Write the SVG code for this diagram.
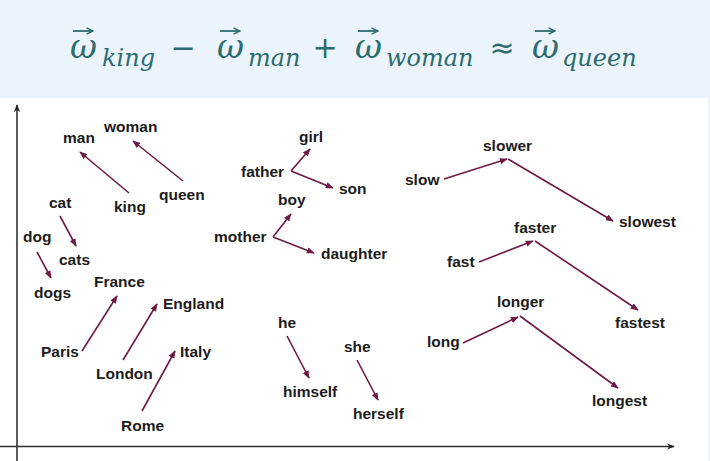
<svg xmlns="http://www.w3.org/2000/svg" width="710" height="461" viewBox="0 0 710 461">
<defs>
<style>
.w{font-family:"Liberation Sans",Arial,sans-serif;font-weight:bold;font-size:15.5px;fill:#1c1c1c}
.m{font-family:"DejaVu Serif",serif;font-style:italic;fill:#2c6c6f}
.big{font-size:33px}
.sub{font-size:24px}
.op{font-family:"DejaVu Sans",sans-serif;font-size:30px;fill:#2c6c6f;text-anchor:middle}
.c{stroke:#6e1a42;stroke-width:1.6;fill:none;marker-end:url(#ah)}
.c2{stroke:#6e1a42;stroke-width:1.6;fill:none}
.ax{stroke:#333;stroke-width:1.6;fill:none}
.va{stroke:#2c6c6f;stroke-width:1.8;fill:none}
</style>
<marker id="ah" viewBox="0 0 10 8" refX="9" refY="4" markerWidth="8" markerHeight="6.4" markerUnits="userSpaceOnUse" orient="auto">
<path d="M0,0 L10,4 L0,8 z" fill="#6e1a42"/>
</marker>
<marker id="axh" viewBox="0 0 10 8" refX="9" refY="4" markerWidth="8" markerHeight="6.4" markerUnits="userSpaceOnUse" orient="auto">
<path d="M0,0 L10,4 L0,8 L3,4 z" fill="#222"/>
</marker>
<marker id="vh" viewBox="0 0 10 10" refX="9" refY="5" markerWidth="8" markerHeight="8" markerUnits="userSpaceOnUse" orient="auto">
<path d="M1,1 L9,5 L1,9" fill="none" stroke="#2c6c6f" stroke-width="1.8"/>
</marker>
</defs>
<rect x="0" y="0" width="710" height="461" fill="#ffffff"/>
<rect x="0" y="0" width="710" height="98" fill="#ebf3fd"/>
<rect x="708" y="98" width="2" height="363" fill="#ebf3fd"/>

<g id="title">
<text class="m big" x="70" y="58">ω</text>
<path class="va" d="M73,31 H93" marker-end="url(#vh)"/>
<text class="m sub" x="102" y="66">king</text>
<text class="op" x="183" y="58">−</text>
<text class="m big" x="217" y="58">ω</text>
<path class="va" d="M220,31 H240" marker-end="url(#vh)"/>
<text class="m sub" x="248" y="66">man</text>
<text class="op" x="325" y="58">+</text>
<text class="m big" x="355" y="58">ω</text>
<path class="va" d="M358,31 H378" marker-end="url(#vh)"/>
<text class="m sub" x="386" y="66">woman</text>
<text class="op" x="502" y="58">≈</text>
<text class="m big" x="532" y="58">ω</text>
<path class="va" d="M535,31 H555" marker-end="url(#vh)"/>
<text class="m sub" x="562" y="66">queen</text>
</g>

<g id="axes">
<path class="ax" d="M17,461 V105" marker-end="url(#axh)"/>
<path class="ax" d="M0,446.5 H674" marker-end="url(#axh)"/>
</g>

<g id="n-man"><text class="w" x="63" y="143">man</text></g>
<g id="n-woman"><text class="w" x="104" y="132">woman</text></g>
<g id="n-king"><text class="w" x="114" y="212">king</text></g>
<g id="n-queen"><text class="w" x="159" y="200">queen</text></g>
<g id="n-cat"><text class="w" x="49" y="208">cat</text></g>
<g id="n-cats"><text class="w" x="59" y="265">cats</text></g>
<g id="n-dog"><text class="w" x="23" y="242">dog</text></g>
<g id="n-dogs"><text class="w" x="34" y="298">dogs</text></g>
<g id="n-france"><text class="w" x="94" y="287">France</text></g>
<g id="n-england"><text class="w" x="163" y="309">England</text></g>
<g id="n-italy"><text class="w" x="180" y="357">Italy</text></g>
<g id="n-paris"><text class="w" x="41" y="357">Paris</text></g>
<g id="n-london"><text class="w" x="96" y="379">London</text></g>
<g id="n-rome"><text class="w" x="121" y="431">Rome</text></g>
<g id="n-girl"><text class="w" x="299" y="142">girl</text></g>
<g id="n-father"><text class="w" x="241" y="177">father</text></g>
<g id="n-son"><text class="w" x="339" y="194">son</text></g>
<g id="n-boy"><text class="w" x="278" y="205">boy</text></g>
<g id="n-mother"><text class="w" x="214" y="242">mother</text></g>
<g id="n-daughter"><text class="w" x="321" y="259">daughter</text></g>
<g id="n-he"><text class="w" x="278" y="328">he</text></g>
<g id="n-she"><text class="w" x="344" y="352">she</text></g>
<g id="n-himself"><text class="w" x="283" y="397">himself</text></g>
<g id="n-herself"><text class="w" x="353" y="419">herself</text></g>
<g id="n-slower"><text class="w" x="483" y="151">slower</text></g>
<g id="n-slow"><text class="w" x="405" y="185">slow</text></g>
<g id="n-slowest"><text class="w" x="619" y="227">slowest</text></g>
<g id="n-faster"><text class="w" x="514" y="233">faster</text></g>
<g id="n-fast"><text class="w" x="447" y="267">fast</text></g>
<g id="n-fastest"><text class="w" x="615" y="328">fastest</text></g>
<g id="n-longer"><text class="w" x="497" y="307">longer</text></g>
<g id="n-long"><text class="w" x="427" y="347">long</text></g>
<g id="n-longest"><text class="w" x="592" y="406">longest</text></g>

<g id="connectors">
<path class="c" d="M129,193 L80,152"/>
<path class="c" d="M183,181 L133,141"/>
<path class="c" d="M60,216 L76,246"/>
<path class="c" d="M37,252 L51,278"/>
<path class="c" d="M82,351 L117,296"/>
<path class="c" d="M123,360 L157,304"/>
<path class="c" d="M142,411 L175,351"/>
<path class="c" d="M291,171 L310,149"/>
<path class="c" d="M291,171 L333,188"/>
<path class="c" d="M273,237 L291,214"/>
<path class="c" d="M273,237 L314,253"/>
<path class="c" d="M287,336 L309,378"/>
<path class="c" d="M357,360 L378,400"/>
<path class="c" d="M444,179 L507,159"/>
<path class="c" d="M508,159 L613,221"/>
<path class="c" d="M479,262 L533,241"/>
<path class="c" d="M535,241 L638,310"/>
<path class="c" d="M463,343 L518,317"/>
<path class="c" d="M520,316 L618,388"/>
</g>
</svg>
